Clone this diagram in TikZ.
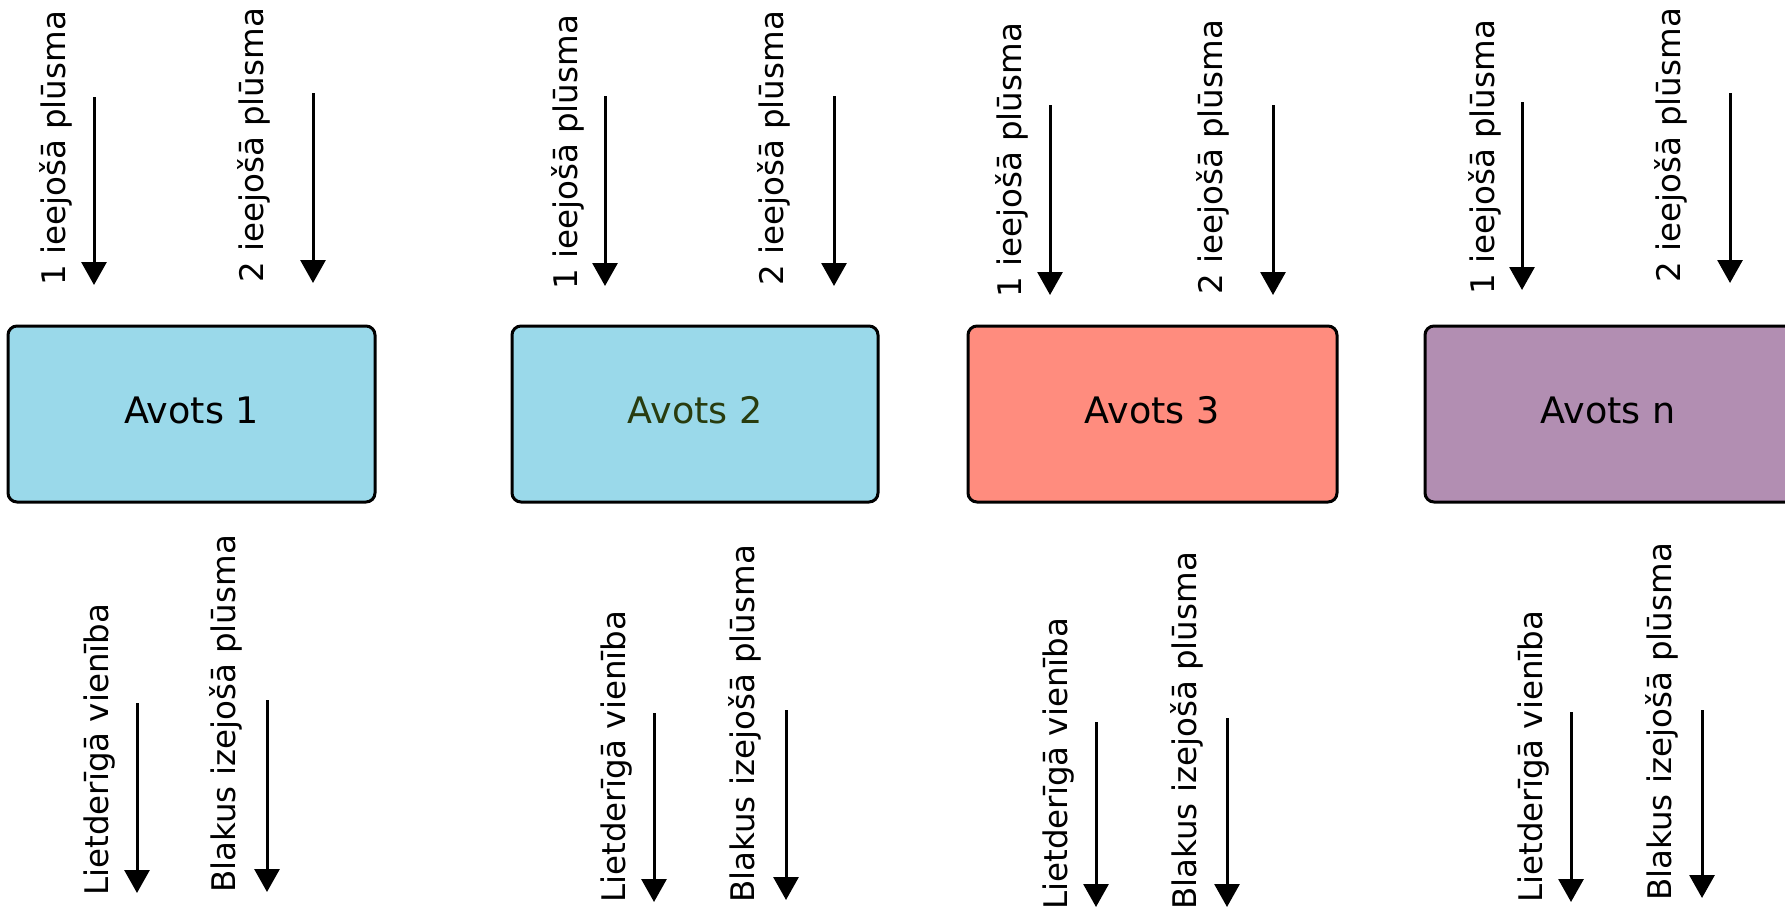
\documentclass[tikz,border=0pt]{standalone}
\usepackage{fontspec}
\setmainfont{DejaVu Sans}
\usetikzlibrary{arrows.meta}
\definecolor{lblue}{RGB}{154,217,234}
\definecolor{salmon}{RGB}{255,140,126}
\definecolor{lpurple}{RGB}{178,142,178}
\definecolor{olivetxt}{RGB}{40,60,15}
\tikzset{
  srcbox/.style={draw=black, line width=3pt, rounded corners=9pt},
  boxtext/.style={font=\fontsize{36.5}{40}\selectfont, anchor=base, inner sep=0pt},
  flowtext/.style={font=\fontsize{32.5}{36}\selectfont, rotate=90, anchor=base west, inner sep=0pt},
  flowarrow/.style={line width=3pt, -{Triangle[width=25pt,length=23pt]}}
}
% \flowitem{name}{text x baseline}{text start y}{text}{arrow x}{arrow y1}{arrow y2}
\newcommand{\flowitem}[7]{%
  \node[flowtext] (#1t) at (#2,-#3) {#4};
  \coordinate (#1s) at (#5,-#6);
  \coordinate (#1e) at (#5,-#7);
  \draw[flowarrow] (#1s) -- (#1e);
}
\begin{document}
\begin{tikzpicture}[x=1pt,y=1pt]
\useasboundingbox (0,0) rectangle (1785,-907);
\clip (0,0) rectangle (1785,-907);
% boxes
\draw[srcbox, fill=lblue] (8,-326) rectangle (375,-502);
\node[boxtext] (b1) at (191.5,-423) {Avots 1};
\draw[srcbox, fill=lblue] (512,-326) rectangle (878,-502);
\node[boxtext, text=olivetxt] (b2) at (695,-423) {Avots 2};
\draw[srcbox, fill=salmon] (968,-326) rectangle (1337,-502);
\node[boxtext] (b3) at (1152,-423) {Avots 3};
\draw[srcbox, fill=lpurple] (1425,-326) rectangle (1795,-502);
\node[boxtext] (bn) at (1608,-423) {Avots n};
% group 1
\flowitem{gat}{65}{286}{1 ieejošā plūsma}{94}{97}{285}
\flowitem{gbt}{263}{283}{2 ieejošā plūsma}{313}{93}{283}
\flowitem{gab}{108}{896}{Lietderīgā vienība}{137}{703}{893}
\flowitem{gbb}{235}{893}{Blakus izejošā plūsma}{267}{700}{892}
% group 2
\flowitem{hat}{577}{290}{1 ieejošā plūsma}{605}{96}{286}
\flowitem{hbt}{783}{286}{2 ieejošā plūsma}{834}{96}{286}
\flowitem{hab}{625}{903}{Lietderīgā vienība}{654}{713}{902}
\flowitem{hbb}{754}{903}{Blakus izejošā plūsma}{786}{710}{900}
% group 3
\flowitem{kat}{1021}{298}{1 ieejošā plūsma}{1050}{105}{295}
\flowitem{kbt}{1222}{295}{2 ieejošā plūsma}{1273}{105}{295}
\flowitem{kab}{1067}{910}{Lietderīgā vienība}{1096}{722}{907}
\flowitem{kbb}{1196}{910}{Blakus izejošā plūsma}{1227}{718}{907}
% group n
\flowitem{nat}{1494}{295}{1 ieejošā plūsma}{1522}{102}{290}
\flowitem{nbt}{1680}{283}{2 ieejošā plūsma}{1730}{93}{283}
\flowitem{nab}{1542}{903}{Lietderīgā vienība}{1571}{712}{902}
\flowitem{nbb}{1671}{901}{Blakus izejošā plūsma}{1702}{710}{898}
\end{tikzpicture}
\end{document}
